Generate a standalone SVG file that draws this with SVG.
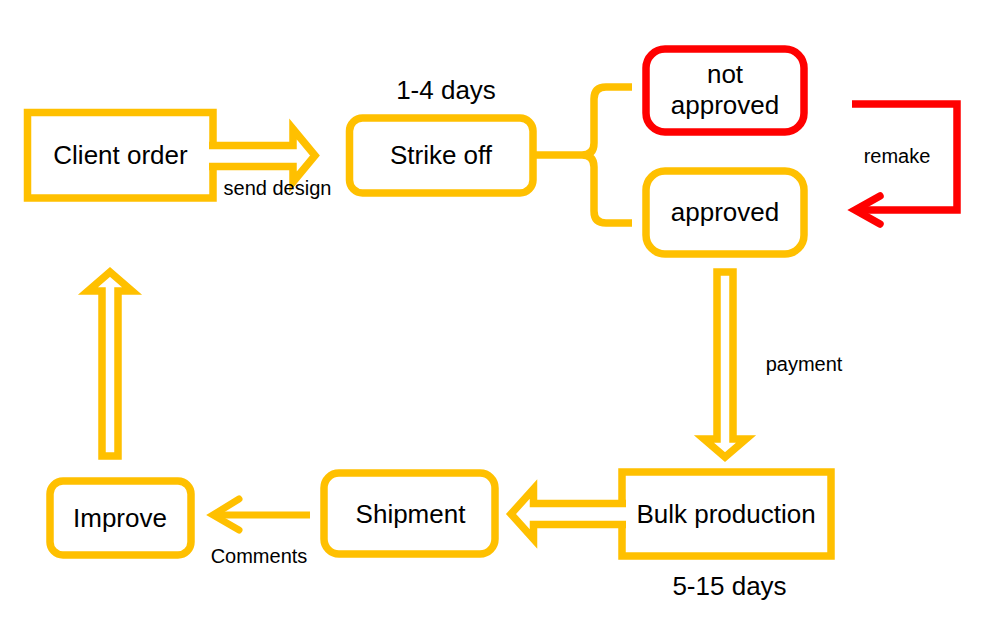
<svg xmlns="http://www.w3.org/2000/svg" width="993" height="644" viewBox="0 0 993 644">
<style>
.y{fill:#fff;stroke:#FFC000;stroke-width:7.5}
.r{fill:#fff;stroke:#FF0000;stroke-width:7.5}
.ln{fill:none;stroke:#FFC000;stroke-width:7.5}
.blk{fill:#fff;stroke:#FFC000;stroke-width:7.5;stroke-linejoin:miter}
.big{font-family:"Liberation Sans",Arial,sans-serif;font-size:26px;fill:#000;text-anchor:middle}
.sm{font-family:"Liberation Sans",Arial,sans-serif;font-size:20px;fill:#000;text-anchor:middle}
</style>
<rect width="993" height="644" fill="#fff"/>
<g id="client-order">
<rect class="y" x="27.5" y="112.5" width="185.5" height="85.5" stroke-width="8"/>
<text class="big" x="120.5" y="164">Client order</text>
</g>
<g id="strike-off">
<rect class="y" x="349.5" y="118" width="183.5" height="75" rx="13"/>
<text class="big" x="441" y="164">Strike off</text>
<text class="big" x="446" y="99">1-4 days</text>
</g>
<g id="not-approved">
<rect class="r" x="646" y="49" width="158" height="83" rx="19"/>
<text class="big" x="725" y="83">not</text>
<text class="big" x="725" y="114">approved</text>
</g>
<g id="approved">
<rect class="y" x="646" y="171" width="158" height="83" rx="19"/>
<text class="big" x="725" y="221">approved</text>
</g>
<g id="bulk-production">
<rect class="y" x="622" y="472" width="209" height="84" stroke-width="8"/>
<text class="big" x="726" y="523">Bulk production</text>
<text class="big" x="729.5" y="594.5">5-15 days</text>
</g>
<g id="shipment">
<rect class="y" x="324" y="473" width="171" height="81" rx="15"/>
<text class="big" x="410.5" y="523">Shipment</text>
</g>
<g id="improve">
<rect class="y" x="50" y="481" width="141" height="74" rx="13"/>
<text class="big" x="120" y="527">Improve</text>
</g>
<g id="connectors">
<path class="blk" d="M209,145.5 H293 V129 L315,155.5 L293,182 V166.5 H209"/>
<text class="sm" x="277.5" y="195">send design</text>
<path class="ln" d="M533,155 H582"/>
<path class="ln" d="M632,87 H606 Q594,87 594,99 V143 Q594,155 582,155 Q594,155 594,167 V211 Q594,223 606,223 H632"/>
<path d="M852,104 H957 V210 H856" fill="none" stroke="#FF0000" stroke-width="7.5" stroke-linejoin="miter"/>
<path d="M880,196 L855,210 L880,224" fill="none" stroke="#FF0000" stroke-width="7.5" stroke-linecap="round" stroke-linejoin="miter"/>
<text class="sm" x="897" y="163">remake</text>
<path class="blk" d="M717,272 H733 V439 H746 L725,457 L704,439 H717 Z"/>
<text class="sm" x="804" y="371">payment</text>
<path class="blk" d="M626,503.5 H533.5 V489 L511,514 L533.5,539 V524.5 H626"/>
<path d="M310,515 H216" fill="none" stroke="#FFC000" stroke-width="7"/>
<path d="M239,499 L213,515 L239,530" fill="none" stroke="#FFC000" stroke-width="7" stroke-linecap="round" stroke-linejoin="miter"/>
<text class="sm" x="259" y="563">Comments</text>
<path class="blk" d="M102,456 V291 H88 L110,272 L132,291 H118 V456 Z"/>
</g>
</svg>
